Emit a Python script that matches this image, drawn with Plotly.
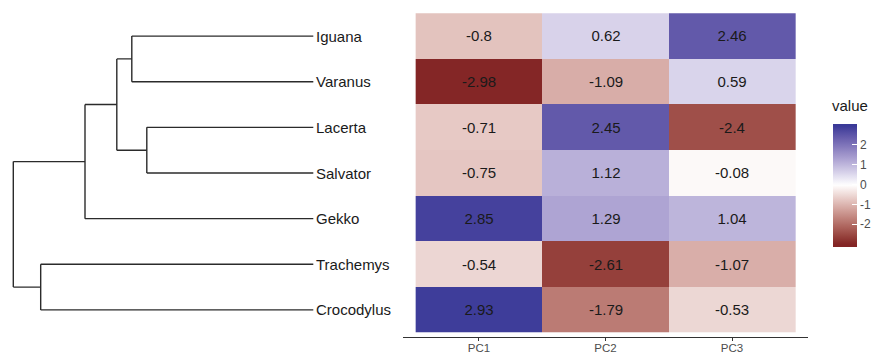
import plotly.graph_objects as go

# ---------------- data ----------------
taxa = ["Iguana", "Varanus", "Lacerta", "Salvator", "Gekko", "Trachemys", "Crocodylus"]
pcs = ["PC1", "PC2", "PC3"]
PC1 = [-0.8, -2.98, -0.71, -0.75, 2.85, -0.54, 2.93]
PC2 = [0.62, -1.09, 2.45, 1.12, 1.29, -2.61, -1.79]
PC3 = [2.46, 0.59, -2.4, -0.08, 1.04, -1.07, -0.53]
cbar_ticks = [-2, -1, 0, 1, 2]
cbar_ticktext = ["-2", "-1", "0", "1", "2"]

# tree: internal nodes (name, child_a, child_b, depth from root; tips at depth 1)
tree_nodes = [
    ("n_iv", "Iguana", "Varanus", 0.395),
    ("n_ls", "Lacerta", "Salvator", 0.445),
    ("n_ivls", "n_iv", "n_ls", 0.345),
    ("n_squam", "n_ivls", "Gekko", 0.239),
    ("n_tc", "Trachemys", "Crocodylus", 0.0913),
    ("root", "n_squam", "n_tc", 0.0),
]
tip_depth = 1.0

# ---------------- colour scale (ggplot gradient2 look) ----------------
LOW, MID, HIGH = "#832424", "#FFFFFF", "#3A3A98"


def _lin(c):
    c = c / 255.0
    return c / 12.92 if c <= 0.04045 else ((c + 0.055) / 1.055) ** 2.4


def _unlin(c):
    c = 12.92 * c if c <= 0.0031308 else 1.055 * c ** (1 / 2.4) - 0.055
    return max(0, min(255, round(c * 255)))


def hex_to_lab(h):
    r, g, b = (_lin(int(h[i:i + 2], 16)) for i in (1, 3, 5))
    x = (0.4124 * r + 0.3576 * g + 0.1805 * b) / 0.95047
    y = (0.2126 * r + 0.7152 * g + 0.0722 * b) / 1.0
    z = (0.0193 * r + 0.1192 * g + 0.9505 * b) / 1.08883
    f = lambda t: t ** (1 / 3) if t > 0.008856 else 7.787 * t + 16 / 116
    fx, fy, fz = f(x), f(y), f(z)
    return (116 * fy - 16, 500 * (fx - fy), 200 * (fy - fz))


def lab_to_rgb(L, a, bb):
    fy = (L + 16) / 116
    fx = fy + a / 500
    fz = fy - bb / 200
    finv = lambda t: t ** 3 if t ** 3 > 0.008856 else (t - 16 / 116) / 7.787
    x, y, z = finv(fx) * 0.95047, finv(fy), finv(fz) * 1.08883
    r = 3.2406 * x - 1.5372 * y - 0.4986 * z
    g = -0.9689 * x + 1.8758 * y + 0.0415 * z
    b = 0.0557 * x - 0.2040 * y + 1.0570 * z
    return "rgb(%d,%d,%d)" % (_unlin(r), _unlin(g), _unlin(b))


labs = [hex_to_lab(LOW), hex_to_lab(MID), hex_to_lab(HIGH)]


def grad2(v, vmax):
    t = max(0.0, min(1.0, v / vmax / 2 + 0.5))
    if t <= 0.5:
        a, b, s = labs[0], labs[1], t / 0.5
    else:
        a, b, s = labs[1], labs[2], (t - 0.5) / 0.5
    return lab_to_rgb(*(a[i] + (b[i] - a[i]) * s for i in range(3)))


allvals = PC1 + PC2 + PC3
vmax = max(abs(v) for v in allvals)
span = (max(allvals) - min(allvals)) / 20 / 2
zmin, zmax = min(allvals) - span, max(allvals) + span
N = 60
colorscale = [[i / N, grad2(zmin + (zmax - zmin) * i / N, vmax)] for i in range(N + 1)]

# ---------------- dendrogram geometry from tree ----------------
ypos = {t: i for i, t in enumerate(taxa)}
xpos = {t: tip_depth for t in taxa}
for name, a, b, d in tree_nodes:
    ypos[name] = (ypos[a] + ypos[b]) / 2
    xpos[name] = d
lx, ly = [], []
for name, a, b, d in tree_nodes:
    lx += [d, d, None]
    ly += [ypos[a], ypos[b], None]
    for c in (a, b):
        lx += [d, xpos[c], None]
        ly += [ypos[c], ypos[c], None]

fig = go.Figure()
fig.add_trace(go.Scatter(x=lx, y=ly, mode="lines", xaxis="x", yaxis="y",
                         line=dict(color="#2b2b2b", width=1.4), hoverinfo="skip",
                         showlegend=False))

z = [[PC1[i], PC2[i], PC3[i]] for i in range(len(taxa))]
txt = [[str(v) for v in row] for row in z]
fig.add_trace(go.Heatmap(
    z=z, x=list(range(len(pcs))), y=list(range(len(taxa))), text=txt,
    texttemplate="%{text}", textfont=dict(size=15, color="#1a1a1a", family="Liberation Sans"),
    xaxis="x2", yaxis="y", colorscale=colorscale, zmin=zmin, zmax=zmax,
    colorbar=dict(
        x=832.7 / 872, xanchor="left", xpad=0, ypad=0,
        y=1 - 185 / 355, yanchor="middle",
        thickness=24, thicknessmode="pixels", len=123.4, lenmode="pixels",
        outlinewidth=0, tickvals=cbar_ticks, ticktext=cbar_ticktext,
        ticks="inside", ticklen=5,
        tickcolor="white", tickfont=dict(size=12, color="#4d4d4d"),
    ),
))

for t in taxa:
    fig.add_annotation(x=tip_depth, y=ypos[t], xref="x", yref="y", text=t,
                       showarrow=False, xanchor="left", xshift=1,
                       font=dict(size=15, color="#1a1a1a"))

fig.add_annotation(x=832 / 872, y=1 - 105 / 355, xref="paper", yref="paper",
                   text="value", showarrow=False, xanchor="left", yanchor="middle",
                   xshift=-2, font=dict(size=15, color="#1a1a1a"))

H = 355.0
fig.update_layout(
    width=872, height=355, margin=dict(l=0, r=0, t=0, b=0, autoexpand=False),
    paper_bgcolor="white", plot_bgcolor="white",
    font=dict(family="Liberation Sans"),
    xaxis=dict(domain=[0, 0.42], range=[-13.3 / 300, (0.42 * 872 - 13.3) / 300],
               visible=False),
    xaxis2=dict(domain=[403 / 872, 808 / 872], range=[-0.6, 2.6], anchor="y",
                tickvals=list(range(len(pcs))), ticktext=pcs, showline=True,
                linecolor="#333333", linewidth=1.1, ticks="outside", ticklen=3,
                tickcolor="#333333", showgrid=False, zeroline=False,
                ticklabelstandoff=-3,
                tickfont=dict(size=11.5, color="#4d4d4d")),
    yaxis=dict(domain=[1 - 337.3 / H, 1 - 8.7 / H], range=[6.6, -0.6],
               visible=False, anchor="x2"),
)

fig.write_html("out.html", config={"displayModeBar": False},
               post_script="document.body.style.margin='0';")
